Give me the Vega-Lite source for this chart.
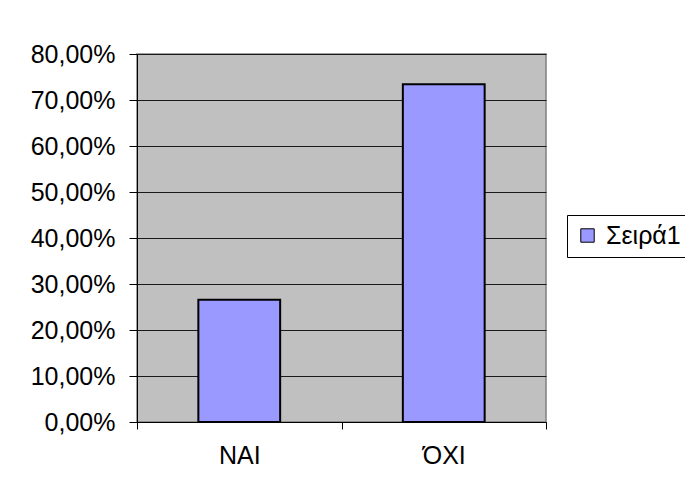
{
  "$schema": "https://vega.github.io/schema/vega-lite/v6.json",
  "autosize": "none",
  "width": 409,
  "height": 368,
  "padding": {"left": 137, "top": 54, "right": 139, "bottom": 75},
  "background": "white",
  "data": {
    "values": [
      {"category": "NAI", "value": 0.266, "series": "Σειρά1"},
      {"category": "ΌΧΙ", "value": 0.734, "series": "Σειρά1"}
    ]
  },
  "mark": {"type": "bar", "width": {"band": 0.4}, "stroke": "#000000", "strokeWidth": 2},
  "encoding": {
    "x": {
      "field": "category",
      "type": "nominal",
      "sort": null,
      "scale": {"paddingInner": 0, "paddingOuter": 0},
      "axis": {
        "title": null,
        "labelAngle": 0,
        "tickBand": "extent",
        "tickSize": 7,
        "tickColor": "#000000",
        "domainColor": "#000000",
        "labelPadding": 14,
        "labelFontSize": 25,
        "labelFont": "Liberation Sans",
        "labelColor": "#000000",
        "grid": false
      }
    },
    "y": {
      "field": "value",
      "type": "quantitative",
      "scale": {"domain": [0, 0.8], "nice": false},
      "axis": {
        "title": null,
        "values": [0, 0.1, 0.2, 0.3, 0.4, 0.5, 0.6, 0.7, 0.8],
        "labelExpr": "replace(format(datum.value, '.2%'), '.', ',')",
        "tickSize": 8,
        "tickColor": "#000000",
        "domainColor": "#000000",
        "labelPadding": 14,
        "labelFontSize": 25,
        "labelFont": "Liberation Sans",
        "labelColor": "#000000",
        "grid": true,
        "gridColor": "#1a1a1a",
        "gridOpacity": 1
      }
    },
    "color": {
      "field": "series",
      "type": "nominal",
      "scale": {"range": ["#9999FF"]},
      "legend": {
        "title": null,
        "orient": "none",
        "legendX": 430,
        "legendY": 161,
        "symbolType": "square",
        "symbolSize": 180,
        "symbolStrokeColor": "#000000",
        "symbolStrokeWidth": 1,
        "labelFontSize": 25,
        "labelFont": "Liberation Sans",
        "labelColor": "#000000",
        "labelOffset": 6,
        "padding": 8,
        "strokeColor": "#000000",
        "fillColor": "#ffffff"
      }
    }
  },
  "config": {
    "view": {"fill": "#C0C0C0", "stroke": "#808080", "strokeWidth": 1.5},
    "legend": {"cornerRadius": 0}
  }
}
